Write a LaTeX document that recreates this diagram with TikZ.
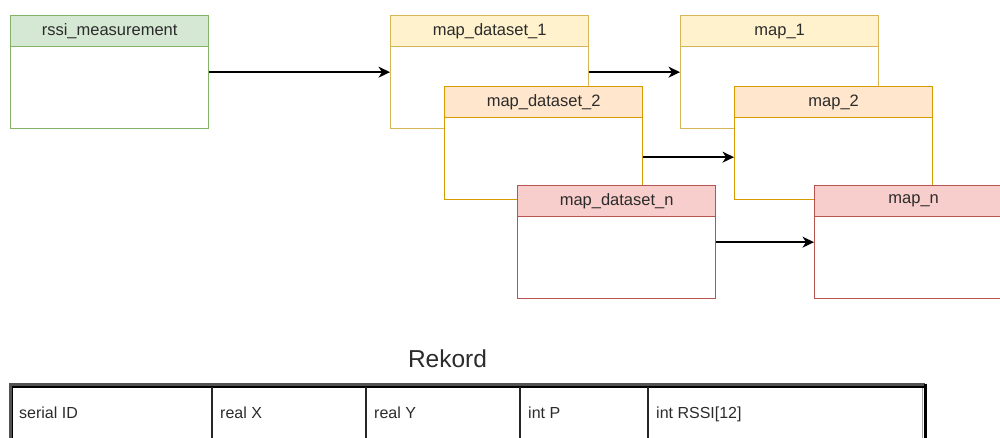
\documentclass[tikz,border=0pt]{standalone}
\usepackage{fontspec}
\setmainfont{Liberation Sans}
\usetikzlibrary{arrows.meta}
\definecolor{grnF}{HTML}{D5E8D4}\definecolor{grnD}{HTML}{82B366}
\definecolor{ylwF}{HTML}{FFF2CC}\definecolor{ylwD}{HTML}{D6B656}
\definecolor{orgF}{HTML}{FFE6CC}\definecolor{orgD}{HTML}{D79B00}
\definecolor{redF}{HTML}{F8CECC}\definecolor{redD}{HTML}{B85450}
\definecolor{ink}{HTML}{2B2B2B}
\begin{document}
\begin{tikzpicture}[x=1pt,y=-1pt,
  entity/.style={draw, line width=1.3pt, fill=white, minimum width=198pt,
    minimum height=113pt, anchor=north west, inner sep=0pt},
  title/.style={draw, line width=1.3pt, minimum width=198pt, minimum height=31pt,
    anchor=north west, inner sep=0pt, text=ink, font=\fontsize{16.5}{20}\selectfont},
  flow/.style={-{Stealth[length=11.5pt,width=11pt,inset=3.5pt]}, line width=1.5pt, black},
  cellfont/.style={font=\fontsize{16}{19}\selectfont, text=ink, anchor=base west, inner sep=0pt}
]
\useasboundingbox (0,0) rectangle (1000,437);
\clip (0,0) rectangle (1000,437);

% measurement source
\node[entity, draw=grnD] (rssi) at (10,15) {};
\node[title, draw=grnD, fill=grnF] (rssiT) at (rssi.north west) {rssi\_measurement};

% first dataset / map pair
\node[entity, draw=ylwD] (ds1) at (390,15) {};
\node[title, draw=ylwD, fill=ylwF] (ds1T) at (ds1.north west) {map\_dataset\_1};
\node[entity, draw=ylwD] (map1) at (680,15) {};
\node[title, draw=ylwD, fill=ylwF] (map1T) at (map1.north west) {map\_1};

% second dataset / map pair
\node[entity, draw=orgD] (ds2) at (444,86) {};
\node[title, draw=orgD, fill=orgF] (ds2T) at (ds2.north west) {map\_dataset\_2};
\node[entity, draw=orgD] (map2) at (734,86) {};
\node[title, draw=orgD, fill=orgF] (map2T) at (map2.north west) {map\_2};

% n-th dataset / map pair
\node[entity, draw=redD] (dsn) at (517,185) {};
\node[title, draw=redD, fill=redF] (dsnT) at (dsn.north west) {map\_dataset\_n};
\node[entity, draw=redD] (mapn) at (814,185) {};
\node[title, draw=redD, fill=redF] (mapnT) at (mapn.north west) {map\_n};

% data flow
\draw[flow] (rssi.east) -- (ds1.west);
\draw[flow] (ds1.east) -- (map1.west);
\draw[flow] ([yshift=-14pt]ds2.east) -- ([yshift=-14pt]map2.west);
\draw[flow] (dsn.east) -- (mapn.west);

% record layout
\node[font=\fontsize{24.5}{28}\selectfont, text=ink] (rekord) at (447.5,359) {Rekord};

\draw[line width=2.2pt, draw=black!68] (10.5,445) -- (10.5,384.5) -- (925,384.5);
\draw[line width=3pt, black] (925.6,383.5) -- (925.6,445);
\draw[line width=1.2pt, black] (12.8,445) -- (12.8,387) -- (923.5,387);
\draw[line width=1.2pt, black!35] (922.8,387.5) -- (922.8,445);
\foreach \cx in {212,366,520,648}
  \draw[line width=1.3pt, black!85] (\cx,387) -- (\cx,445);

\node[cellfont] (f1) at (19,418) {serial ID};
\node[cellfont] (f2) at (220,418) {real X};
\node[cellfont] (f3) at (374,418) {real Y};
\node[cellfont] (f4) at (528,418) {int P};
\node[cellfont] (f5) at (656,418) {int RSSI[12]};
\end{tikzpicture}
\end{document}
